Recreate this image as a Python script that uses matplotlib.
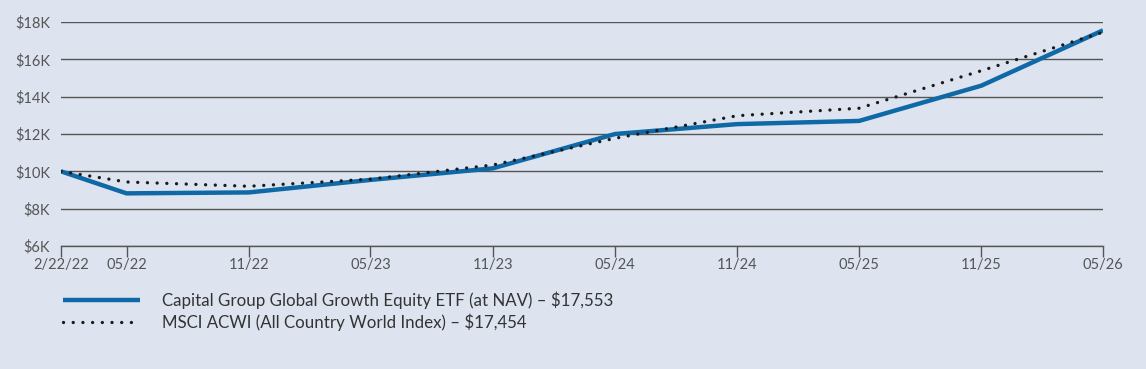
import matplotlib
matplotlib.use("Agg")
import matplotlib.pyplot as plt
import matplotlib.dates as mdates
from datetime import date

dates = [date(2022, 2, 22), date(2022, 5, 31), date(2022, 11, 30), date(2023, 5, 31),
         date(2023, 11, 30), date(2024, 5, 31), date(2024, 11, 30), date(2025, 5, 31),
         date(2025, 11, 30), date(2026, 5, 31)]
tick_labels = ["2/22/22", "05/22", "11/22", "05/23", "11/23", "05/24", "11/24", "05/25", "11/25", "05/26"]
fund = [10000, 8820, 8870, 9540, 10160, 12000, 12530, 12700, 14590, 17553]
index = [10000, 9430, 9200, 9580, 10340, 11770, 12980, 13380, 15390, 17454]
fund_label = "Capital Group Global Growth Equity ETF (at NAV) – $17,553"
index_label = "MSCI ACWI (All Country World Index) – $17,454"
yticks = [6000, 8000, 10000, 12000, 14000, 16000, 18000]

plt.rcParams['font.family'] = ['Lato', 'DejaVu Sans']
bg = "#dde4f0"
fig = plt.figure(figsize=(11.46, 3.69), dpi=100, facecolor=bg)
ax = fig.add_axes([61/1146, 1-246/369, (1103-61)/1146, (246-22)/369])
ax.set_facecolor(bg)

ax.plot(dates, fund, color="#0f69a6", lw=3.2, solid_capstyle='butt', label=fund_label, zorder=3)
ax.plot(dates, index, color="#1a1a1a", lw=2.4, linestyle=(0, (0.01, 2.9)), dash_capstyle='round',
        label=index_label, zorder=4)

ax.set_ylim(6000, 18000)
ax.set_xlim(dates[0], dates[-1])
ax.set_yticks(yticks)
ax.set_yticklabels([f"${v//1000}K" for v in yticks])
ax.set_xticks(dates)
ax.set_xticklabels(tick_labels)
for s in ["top", "right", "left"]:
    ax.spines[s].set_visible(False)
ax.spines["bottom"].set_color("#555555")
ax.spines["bottom"].set_linewidth(1.0)
ax.grid(axis='y', color="#555555", lw=1.0)
ax.set_axisbelow(True)
ax.tick_params(axis='y', length=0, pad=8, labelsize=10.5, labelcolor="#555555")
ax.tick_params(axis='x', length=8, width=1, color="#555555", pad=1, labelsize=10.5, labelcolor="#555555")

leg = fig.legend(loc='upper left', bbox_to_anchor=(48/1146, 1-276/369), frameon=False,
                 handlelength=4.55, handletextpad=1.3, labelspacing=0.3,
                 prop={'size': 12.2}, labelcolor="#333333")

fig.savefig("out.png", dpi=100, facecolor=bg)
